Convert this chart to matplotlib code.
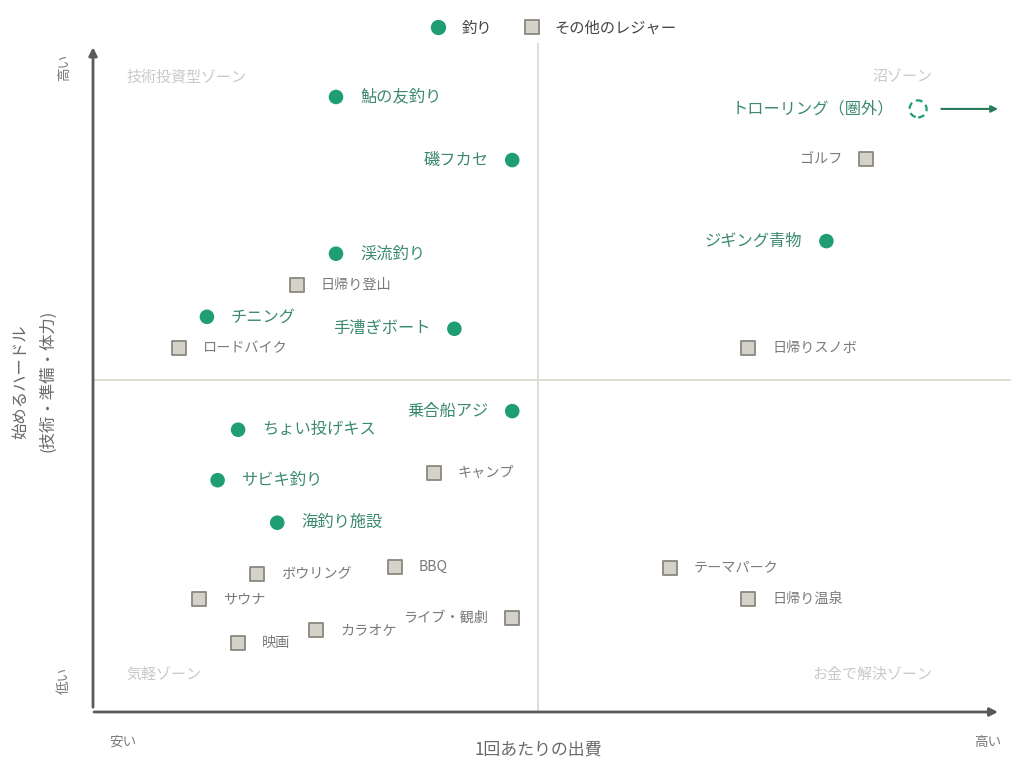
import matplotlib
matplotlib.use('Agg')
import matplotlib.pyplot as plt
from matplotlib.lines import Line2D

plt.rcParams['font.family'] = ['Noto Sans CJK JP', 'DejaVu Sans']

# 釣り（x: 1回あたりの出費, y: 始めるハードル, 0〜10）
fish_names = ['鮎の友釣り', '磯フカセ', '渓流釣り', 'チニング', '手漕ぎボート', 'ジギング青物',
              '乗合船アジ', 'ちょい投げキス', 'サビキ釣り', '海釣り施設']
fish_x = [2.73, 4.71, 2.73, 1.28, 4.06, 8.24, 4.71, 1.63, 1.40, 2.07]
fish_y = [9.26, 8.31, 6.90, 5.95, 5.77, 7.09, 4.53, 4.25, 3.49, 2.85]

# 圏外（トローリング）
out_name = 'トローリング（圏外）'
out_x = 9.27
out_y = 9.08

# その他のレジャー
other_names = ['日帰り登山', 'ロードバイク', 'ゴルフ', '日帰りスノボ', 'キャンプ', 'BBQ',
               'ボウリング', 'サウナ', 'カラオケ', '映画', 'ライブ・観劇', 'テーマパーク', '日帰り温泉']
other_x = [2.29, 0.97, 8.69, 7.36, 3.83, 3.39, 1.84, 1.19, 2.51, 1.63, 4.71, 6.48, 7.36]
other_y = [6.43, 5.48, 8.33, 5.48, 3.60, 2.18, 2.08, 1.70, 1.23, 1.04, 1.42, 2.17, 1.70]

# ラベルを左側に置くもの
left_labels = {'磯フカセ', '手漕ぎボート', 'ジギング青物', '乗合船アジ', 'ゴルフ', 'ライブ・観劇'}

zone_labels = ['技術投資型ゾーン', '沼ゾーン', '気軽ゾーン', 'お金で解決ゾーン']

GREEN = '#1f9e74'
GREEN_TXT = '#3b8a6c'
GRAY_TXT = '#7a7a7a'
SQ_FILL = '#d5d2c9'
SQ_EDGE = '#8a877e'
ZONE = '#c9c9c9'
AXIS = '#5a5a5a'

fig = plt.figure(figsize=(10.24, 7.83), dpi=100)
ax = fig.add_axes([0, 0, 1, 1])
ax.set_xlim(-1.045, 10.46)
ax.set_ylim(-1.069, 10.72)
ax.axis('off')

# 中央の区切り線
ax.plot([5, 5], [0, 10.05], color='#dcdad2', lw=1.3, zorder=1)
ax.plot([0, 10.3], [5, 5], color='#dcdad2', lw=1.3, zorder=1)

# 軸の矢印
ax.annotate('', xy=(10.2, 0), xytext=(-0.02, 0),
            arrowprops=dict(arrowstyle='-|>', color=AXIS, lw=2, mutation_scale=12))
ax.annotate('', xy=(0, 10.05), xytext=(0, 0.03),
            arrowprops=dict(arrowstyle='-|>', color=AXIS, lw=2, mutation_scale=12))

# 点
ax.scatter(fish_x, fish_y, s=110, color=GREEN, zorder=3, edgecolors='none')
ax.scatter(other_x, other_y, s=110, marker='s', color=SQ_FILL, edgecolors=SQ_EDGE,
           linewidths=1.3, zorder=3)

# トローリング（点線の円＋矢印）
ax.scatter([out_x], [out_y], s=150, facecolors='white', edgecolors=GREEN,
           linewidths=1.6, linestyles=(0, (3, 2)), zorder=3)
ax.annotate('', xy=(10.2, out_y), xytext=(9.5, out_y),
            arrowprops=dict(arrowstyle='-|>', color='#2a7a5a', lw=1.5, mutation_scale=10))

dx = 0.27
for name, x, y in zip(fish_names, fish_x, fish_y):
    if name in left_labels:
        ax.text(x - dx, y, name, ha='right', va='center', fontsize=11.7, color=GREEN_TXT)
    else:
        ax.text(x + dx, y, name, ha='left', va='center', fontsize=11.7, color=GREEN_TXT)
ax.text(out_x - dx, out_y, out_name, ha='right', va='center', fontsize=11.7, color=GREEN_TXT)

for name, x, y in zip(other_names, other_x, other_y):
    if name in left_labels:
        ax.text(x - dx, y, name, ha='right', va='center', fontsize=10.2, color=GRAY_TXT)
    else:
        ax.text(x + dx, y, name, ha='left', va='center', fontsize=10.2, color=GRAY_TXT)

# ゾーン名
ax.text(0.38, 9.56, zone_labels[0], ha='left', va='center', fontsize=10.8, color=ZONE)
ax.text(9.43, 9.56, zone_labels[1], ha='right', va='center', fontsize=10.8, color=ZONE)
ax.text(0.38, 0.56, zone_labels[2], ha='left', va='center', fontsize=10.8, color=ZONE)
ax.text(9.43, 0.56, zone_labels[3], ha='right', va='center', fontsize=10.8, color=ZONE)

# 軸ラベル
ax.text(0.33, -0.45, '安い', ha='center', va='center', fontsize=9.8, color=GRAY_TXT)
ax.text(10.05, -0.45, '高い', ha='center', va='center', fontsize=9.8, color=GRAY_TXT)
ax.text(-0.33, 9.7, '高い', ha='center', va='center', fontsize=9.8, color=GRAY_TXT, rotation=90)
ax.text(-0.33, 0.48, '低い', ha='center', va='center', fontsize=9.8, color=GRAY_TXT, rotation=90)
ax.text(5, -0.57, '1回あたりの出費', ha='center', va='center', fontsize=12.2, color='#6a6a6a')
ax.text(-0.66, 4.98, '始めるハードル\n(技術・準備・体力)', ha='center', va='center',
        fontsize=11.8, color='#6a6a6a', rotation=90, linespacing=1.75)

# 凡例
handles = [
    Line2D([], [], marker='o', linestyle='none', markersize=10, color=GREEN, label='釣り'),
    Line2D([], [], marker='s', linestyle='none', markersize=10, markerfacecolor=SQ_FILL,
           markeredgecolor=SQ_EDGE, markeredgewidth=1.3, label='その他のレジャー'),
]
fig.legend(handles=handles, loc='center', bbox_to_anchor=(0.537, 0.964), ncol=2,
           frameon=False, fontsize=11, handletextpad=0.5, columnspacing=1.6,
           labelcolor='#444444')

fig.savefig('out.png', dpi=100)
